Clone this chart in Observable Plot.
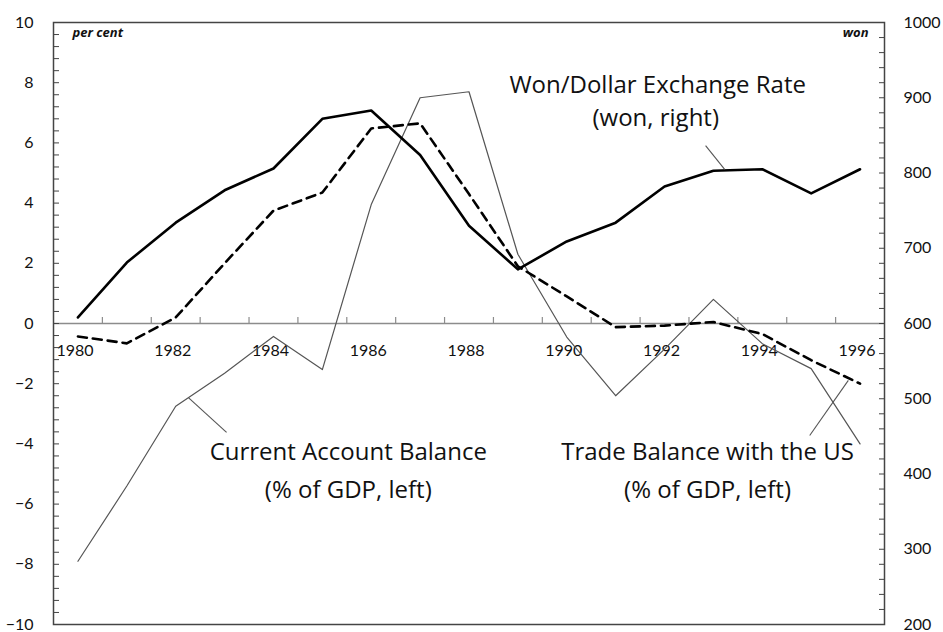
<!DOCTYPE html>
<html>
<head>
<meta charset="utf-8">
<script src="https://cdn.jsdelivr.net/npm/d3@7"></script>
<script src="https://cdn.jsdelivr.net/npm/@observablehq/plot@0.6"></script>
<style>
  html, body { margin: 0; padding: 0; background: #fff; }
  #chart svg { display: block; }
</style>
</head>
<body>
<div id="chart"></div>
<script>
const years = [1980,1981,1982,1983,1984,1985,1986,1987,1988,1989,1990,1991,1992,1993,1994,1995,1996];
const wonPerDollar = [608,681,734,777,806,872,883,824,730,672,709,734,782,803,805,773,805];
const currentAccount = [-7.9,-5.4,-2.75,-1.65,-0.43,-1.53,3.95,7.5,7.7,2.3,-0.45,-2.4,-0.85,0.8,-0.67,-1.5,-4.0];
const tradeBalanceUS = [-0.43,-0.66,0.2,2.0,3.75,4.35,6.48,6.65,4.3,1.9,0.9,-0.12,-0.07,0.05,-0.35,-1.22,-2.0];
const yearLabels = [1980,1982,1984,1986,1988,1990,1992,1994,1996];
const leftTicks = [-10,-8,-6,-4,-2,0,2,4,6,8,10];
const rightTickLabels = [200,300,400,500,600,700,800,900,1000];

// right axis (won) mapped onto left axis (per cent): 600 won = 0 %, 40 won per 1 %
const wonToPct = w => (w - 600) / 40;

const wonData = years.map((x, i) => ({x, v: wonPerDollar[i]}));
const caData = years.map((x, i) => ({x, v: currentAccount[i]}));
const tbData = years.map((x, i) => ({x, v: tradeBalanceUS[i]}));

const leftMinor = d3.range(0, 51).map(i => -10 + i * 0.4);
const rightMinor = d3.range(0, 41).map(i => -10 + i * 0.5);
const halfYears = d3.range(1980.5, 1996, 1);

const annotations = [
  {x: 1991.86, y: 7.91, text: "Won/Dollar Exchange Rate"},
  {x: 1991.82, y: 6.81, text: "(won, right)"},
  {x: 1985.53, y: -4.29, text: "Current Account Balance"},
  {x: 1985.53, y: -5.55, text: "(% of GDP, left)"},
  {x: 1992.88, y: -4.29, text: "Trade Balance with the US"},
  {x: 1992.88, y: -5.55, text: "(% of GDP, left)"}
];
const leaders = [
  {x1: 1992.84, y1: 5.91, x2: 1993.23, y2: 5.12},
  {x1: 1982.26, y1: -2.46, x2: 1983.04, y2: -3.62},
  {x1: 1995.76, y1: -1.89, x2: 1994.97, y2: -3.72}
];

const font = "Lato, 'Open Sans', sans-serif";
const annFont = "'Open Sans', Lato, sans-serif";

const chart = Plot.plot({
  width: 943,
  height: 632,
  marginLeft: 53,
  marginRight: 59,
  marginTop: 22,
  marginBottom: 8,
  style: {fontFamily: font, background: "#fff"},
  x: {domain: [1979.5, 1996.5], axis: null},
  y: {domain: [-10, 10], axis: null},
  marks: [
    // zero line with year ticks
    Plot.ruleY([0], {stroke: "#8c8c8c", strokeWidth: 1.3}),
    Plot.ruleX(halfYears, {x: d => d, y1: 0, y2: 0.2, stroke: "#8c8c8c", strokeWidth: 1.2}),
    Plot.text(yearLabels, {x: d => d, y: 0, dy: 27, dx: -3, text: d => String(d), fontSize: 16, fill: "#111"}),
    // left axis
    Plot.axisY({anchor: "left", ticks: leftMinor, tickSize: -6, tickFormat: () => "", stroke: "#444"}),
    Plot.axisY({anchor: "left", ticks: leftTicks, tickSize: 0, tickPadding: 20, fontSize: 16, fill: "#111", fontFamily: font}),
    // right axis
    Plot.axisY({anchor: "right", ticks: rightMinor, tickSize: -6, tickFormat: () => "", stroke: "#444"}),
    Plot.axisY({anchor: "right", ticks: rightTickLabels.map(wonToPct), tickSize: 0, tickPadding: 19, tickFormat: d => String(Math.round(600 + 40 * d)), fontSize: 16, fill: "#111", fontFamily: font}),
    Plot.frame({stroke: "#444", strokeWidth: 1.5}),
    // unit labels
    Plot.text(["per cent"], {frameAnchor: "top-left", dx: 19, dy: 5, text: d => d, fontStyle: "italic", fontWeight: "bold", fontSize: 13, fontFamily: annFont, fill: "#111"}),
    Plot.text(["won"], {frameAnchor: "top-right", dx: -16, dy: 5, text: d => d, fontStyle: "italic", fontWeight: "bold", fontSize: 13, fontFamily: annFont, fill: "#111"}),
    // series
    Plot.line(caData, {x: "x", y: "v", stroke: "#555", strokeWidth: 1.2}),
    Plot.line(tbData, {x: "x", y: "v", stroke: "#000", strokeWidth: 2.6, strokeDasharray: "9,6"}),
    Plot.line(wonData, {x: "x", y: d => wonToPct(d.v), stroke: "#000", strokeWidth: 2.6}),
    // annotations
    Plot.link(leaders, {x1: "x1", y1: "y1", x2: "x2", y2: "y2", stroke: "#555", strokeWidth: 1.1}),
    Plot.text(annotations, {x: "x", y: "y", text: "text", fontSize: 24, fontFamily: annFont, fill: "#111"})
  ]
});
document.getElementById("chart").appendChild(chart);
</script>
</body>
</html>
